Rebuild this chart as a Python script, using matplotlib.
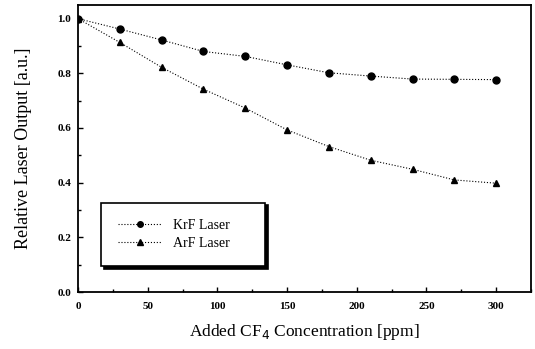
import numpy as np
import matplotlib.pyplot as plt
from matplotlib.ticker import MultipleLocator

# CF4 concentration (ppm) and relative laser output
conc = [0, 30, 60, 90, 120, 150, 180, 210, 240, 270, 300]
krf_output = [1.0, 0.962, 0.922, 0.88, 0.862, 0.831, 0.802, 0.79, 0.779, 0.778, 0.777]
arf_output = [1.0, 0.913, 0.822, 0.742, 0.673, 0.593, 0.532, 0.482, 0.449, 0.41, 0.398]

plt.rcParams['font.family'] = ['Liberation Serif', 'DejaVu Serif']

fig = plt.figure(figsize=(5.35, 3.49), dpi=100)
ax = fig.add_axes([0.1458, 0.1633, 0.8467, 0.8224])

ax.plot(conc, krf_output, linestyle=':', color='black', linewidth=0.8,
        marker='o', markersize=5, label='KrF Laser')
ax.plot(conc, arf_output, linestyle=':', color='black', linewidth=0.8,
        marker='^', markersize=5, label='ArF Laser')

ax.set_xlim(0, 325)
ax.set_ylim(0, 1.05)
ax.xaxis.set_major_locator(MultipleLocator(50))
ax.xaxis.set_minor_locator(MultipleLocator(25))
ax.yaxis.set_major_locator(MultipleLocator(0.2))
ax.yaxis.set_minor_locator(MultipleLocator(0.1))
ax.set_yticklabels(['%.1f' % v for v in ax.get_yticks()])
ax.tick_params(which='both', direction='in', labelsize=8, width=1)
ax.tick_params(which='major', length=3.5)
ax.tick_params(which='minor', length=2)
ax.tick_params(axis='x', pad=7)
ax.tick_params(axis='y', pad=5)
for lab in ax.get_xticklabels() + ax.get_yticklabels():
    lab.set_fontweight('bold')
for sp in ax.spines.values():
    sp.set_linewidth(1.3)

ax.set_xlabel('Added CF$_4$ Concentration [ppm]', fontsize=12.5, labelpad=8)
ax.set_ylabel('Relative Laser Output [a.u.]', fontsize=13, labelpad=18)

leg = ax.legend(loc='lower left', bbox_to_anchor=(0.051, 0.09, 0.362, 0.223),
                mode='expand', fontsize=10, frameon=True, fancybox=False,
                edgecolor='black', handlelength=3.2, borderpad=1.2,
                labelspacing=0.3, borderaxespad=0, markerscale=0.8,
                shadow={'color': 'black', 'alpha': 1, 'ox': 2, 'oy': -2})
leg.get_frame().set_linewidth(1.2)

plt.savefig('out.png', dpi=100)
